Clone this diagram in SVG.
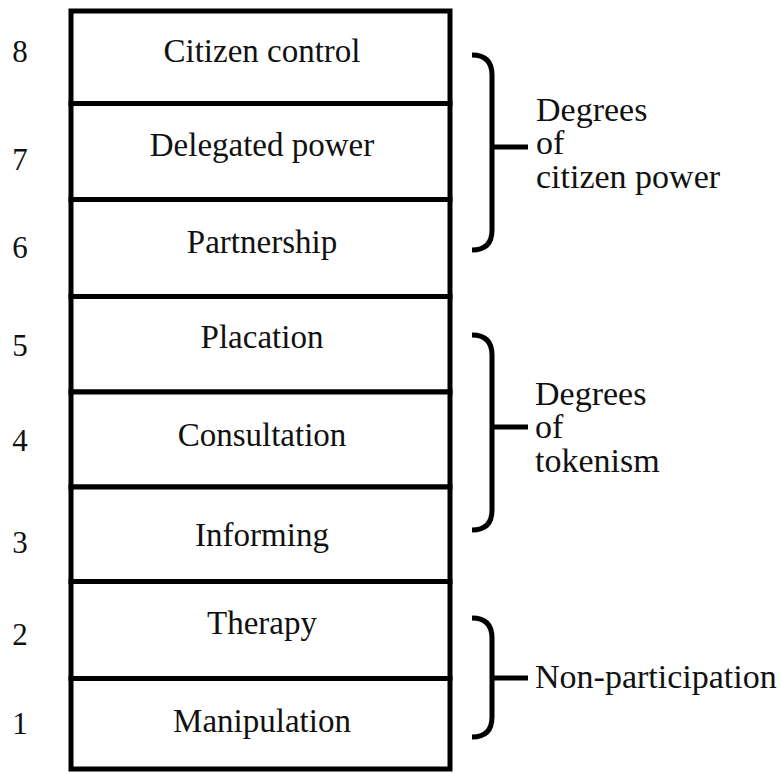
<svg xmlns="http://www.w3.org/2000/svg" width="781" height="773" viewBox="0 0 781 773">
<style>
.rung{fill:#fff;stroke:#000;stroke-width:5}
.lbl{font-family:"Liberation Serif","Times New Roman",serif;font-size:33px;fill:#111;text-anchor:middle}
.num{font-family:"Liberation Serif","Times New Roman",serif;font-size:31px;fill:#111;text-anchor:middle}
.grp{font-family:"Liberation Serif","Times New Roman",serif;font-size:34px;fill:#111}
.brace{fill:none;stroke:#000;stroke-width:5;stroke-linecap:butt}
</style>
<rect width="781" height="773" fill="#fff"/>
<g id="rung8"><rect class="rung" x="71" y="11" width="379" height="92.5"/><text class="lbl" x="262" y="62">Citizen control</text><text class="num" x="20" y="62">8</text></g>
<g id="rung7"><rect class="rung" x="71" y="103.5" width="379" height="96"/><text class="lbl" x="262" y="156">Delegated power</text><text class="num" x="20" y="170">7</text></g>
<g id="rung6"><rect class="rung" x="71" y="199.5" width="379" height="97"/><text class="lbl" x="262" y="253">Partnership</text><text class="num" x="20" y="258">6</text></g>
<g id="rung5"><rect class="rung" x="71" y="296.5" width="379" height="95.5"/><text class="lbl" x="262" y="348">Placation</text><text class="num" x="20" y="356">5</text></g>
<g id="rung4"><rect class="rung" x="71" y="392" width="379" height="95"/><text class="lbl" x="262" y="446">Consultation</text><text class="num" x="20" y="451">4</text></g>
<g id="rung3"><rect class="rung" x="71" y="487" width="379" height="94.5"/><text class="lbl" x="262" y="546">Informing</text><text class="num" x="20" y="553">3</text></g>
<g id="rung2"><rect class="rung" x="71" y="581.5" width="379" height="97"/><text class="lbl" x="262" y="634">Therapy</text><text class="num" x="20" y="645">2</text></g>
<g id="rung1"><rect class="rung" x="71" y="678.5" width="379" height="90.5"/><text class="lbl" x="262" y="732">Manipulation</text><text class="num" x="20" y="734">1</text></g>
<g id="connectors">
<path class="brace" d="M472,55 Q492,55 492,75 V230 Q492,250 472,250 M492,147 H528"/>
<path class="brace" d="M472,335 Q492,335 492,355 V510 Q492,530 472,530 M492,427 H528"/>
<path class="brace" d="M472,618 Q492,618 492,638 V717 Q492,737 472,737 M492,678 H528"/>
</g>
<g id="citizen-power"><text class="grp" x="536" y="121">Degrees</text><text class="grp" x="536" y="154">of</text><text class="grp" x="536" y="188">citizen power</text></g>
<g id="tokenism"><text class="grp" x="535" y="405">Degrees</text><text class="grp" x="535" y="438">of</text><text class="grp" x="535" y="472">tokenism</text></g>
<g id="non-participation"><text class="grp" x="535" y="688">Non-participation</text></g>
</svg>
